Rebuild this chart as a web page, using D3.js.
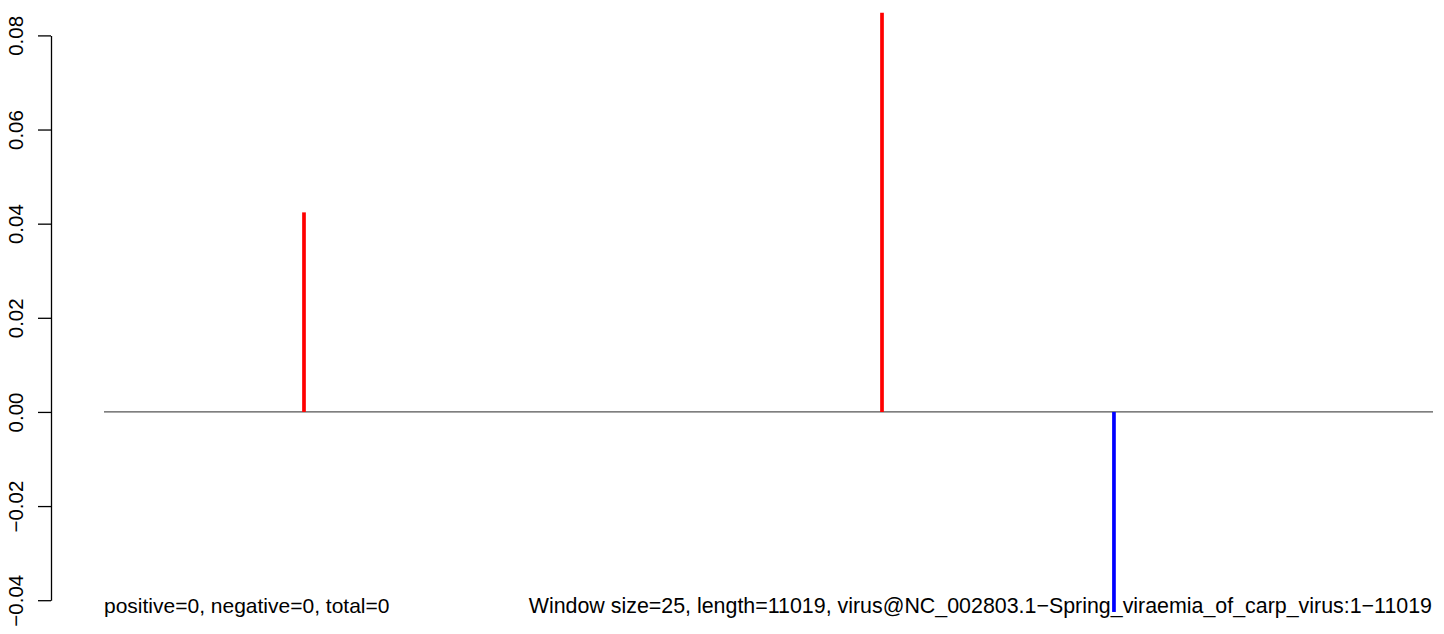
<!DOCTYPE html>
<html>
<head>
<meta charset="utf-8">
<script src="https://cdn.jsdelivr.net/npm/d3@7"></script>
<style>
  html, body { margin: 0; padding: 0; background: #fff; }
  svg { display: block; font-family: "Liberation Sans", Arial, Helvetica, sans-serif; }
</style>
</head>
<body>
<svg id="chart" width="1444" height="634"></svg>
<script>
// ---- data ----
const seqStart = 1;
const seqEnd = 11019;
const barPositions = [1659, 6451, 8374];
const barValues = [0.0424, 0.0848, -0.0425];
const yTicks = [-0.04, -0.02, 0.00, 0.02, 0.04, 0.06, 0.08];
const leftLabel = "positive=0, negative=0, total=0";
const rightLabel = "Window size=25, length=11019, virus@NC_002803.1\u2212Spring_viraemia_of_carp_virus:1\u221211019";

const svg = d3.select("#chart");

const x = d3.scaleLinear().domain([seqStart, seqEnd]).range([104, 1433]);
const y = d3.scaleLinear().domain([-0.04, 0.08]).range([600.2, 35.4]);

// y axis
const yAxis = d3.axisLeft(y)
  .tickValues(yTicks)
  .tickSizeInner(13)
  .tickSizeOuter(0)
  .tickPadding(0)
  .tickFormat(d => d3.format(".2f")(d).replace("-", "\u2212"));

const gy = svg.append("g").attr("transform", "translate(51,0)").call(yAxis);
gy.select(".domain").attr("stroke", "#000").attr("stroke-width", 1.3);
gy.selectAll(".tick line").attr("stroke", "#000").attr("stroke-width", 1.3);
gy.selectAll(".tick text")
  .attr("x", null).attr("dy", null)
  .attr("transform", "translate(-28,0) rotate(-90)")
  .attr("text-anchor", "middle")
  .attr("fill", "#000")
  .style("font-size", "20.5px")
  .style("font-family", "'Liberation Sans', Arial, sans-serif");

// zero line
svg.append("line")
  .attr("x1", x(seqStart)).attr("x2", x(seqEnd))
  .attr("y1", y(0)).attr("y2", y(0))
  .attr("stroke", "#555").attr("stroke-width", 1.2);

// bars
svg.selectAll("line.bar")
  .data(barPositions.map((p, i) => ({p, v: barValues[i]})))
  .enter().append("line")
  .attr("class", "bar")
  .attr("x1", d => x(d.p)).attr("x2", d => x(d.p))
  .attr("y1", y(0)).attr("y2", d => y(d.v))
  .attr("stroke", d => d.v >= 0 ? "#ff0000" : "#0000ff")
  .attr("stroke-width", 3.7);

// bottom texts
svg.append("text")
  .attr("x", 104).attr("y", 613)
  .attr("fill", "#000")
  .style("font-size", "21px")
  .text(leftLabel);

svg.append("text")
  .attr("x", 1432).attr("y", 613)
  .attr("text-anchor", "end")
  .attr("fill", "#000")
  .style("font-size", "21.4px")
  .text(rightLabel);
</script>
</body>
</html>
